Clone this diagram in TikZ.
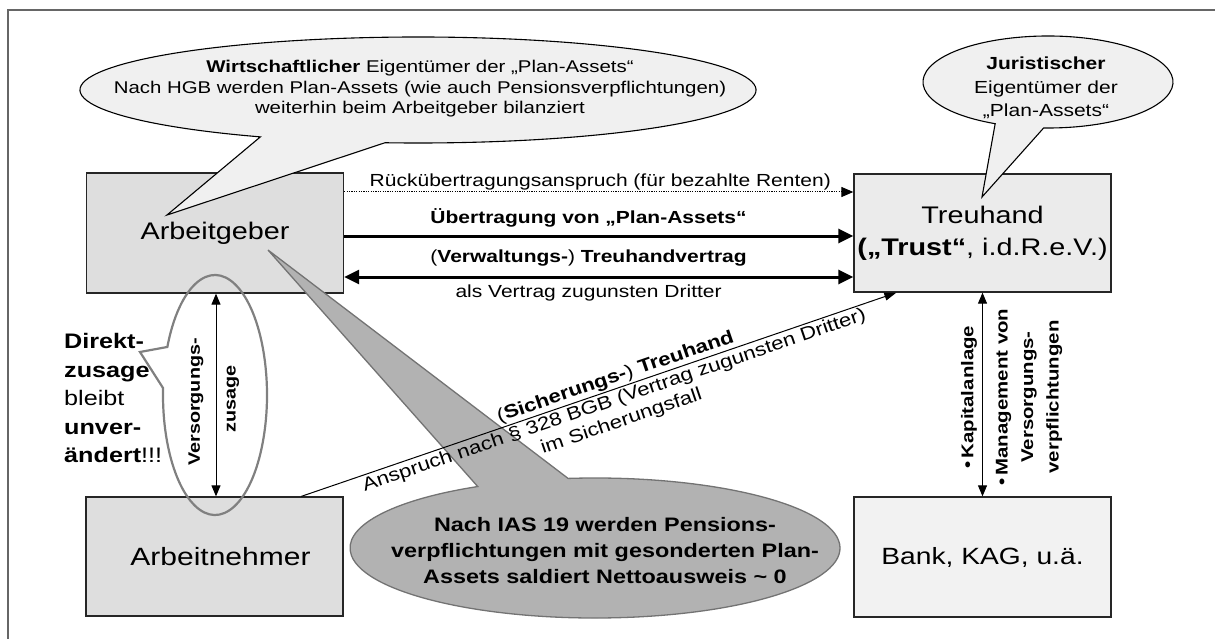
\documentclass[tikz,border=0pt]{standalone}
\usepackage{fontspec}
\setmainfont{Liberation Sans}[FakeStretch=1.2]
\usetikzlibrary{arrows.meta,calc}
\definecolor{boxA}{gray}{0.87}
\definecolor{boxT}{gray}{0.92}
\definecolor{boxB}{gray}{0.95}
\definecolor{callL}{gray}{0.94}
\definecolor{callG}{gray}{0.70}
\begin{document}
\begin{tikzpicture}[x=1pt,y=-1pt,
  box/.style={draw=black!85, line width=1.3pt, minimum width=257pt, minimum height=120pt, inner sep=0pt, align=center},
  lab/.style={font=\fontsize{17.5}{21}\selectfont, inner sep=1pt},
  diaglab/.style={font=\fontsize{18.5}{22}\selectfont, inner sep=1pt},
  callout/.style={draw=black, line width=1.1pt, fill=callL},
  thinarrow/.style={line width=1pt, {Triangle[length=11pt,width=9pt]}-{Triangle[length=11pt,width=9pt]}},
  boldarrow/.style={line width=3pt, -{Triangle[length=15pt,width=14pt]}},
]
\useasboundingbox (0,0) rectangle (1215,639);
% frame
\draw[black!60, line width=1.2pt] (8,639) -- (8,10) -- (1215,10);

% boxes
\node[box, fill=boxA, font=\fontsize{24}{29}\selectfont] (ag) at (215,233) {Arbeitgeber};
\node[box, fill=boxT, minimum height=118pt, font=\fontsize{24}{32}\selectfont] (tr) at (982.5,233) {Treuhand\\\textbf{(„Trust“}, i.d.R.e.V.)};
\node[box, fill=boxB, font=\fontsize{23.5}{28}\selectfont] (bk) at (982.5,557) {Bank, KAG, u.ä.};
\node[box, fill=boxA, minimum height=119pt, font=\fontsize{25}{30}\selectfont] (an) at (214.5,556.5) {\hspace*{12pt}Arbeitnehmer};

% top-left callout
\path[callout] (418,90) ++(117.8:338 and 53) arc[start angle=117.8, end angle=455.6, x radius=338, y radius=53] -- (167,215) -- cycle;
\node[align=center, font=\fontsize{17}{20.5}\selectfont] (tltext) at (420,89)
  {\textbf{Wirtschaftlicher} Eigentümer der „Plan-Assets“\\Nach HGB werden Plan-Assets (wie auch Pensionsverpflichtungen)\\weiterhin beim Arbeitgeber bilanziert};

% top-right callout
\path[callout] (1048,82) ++(115:125 and 46) arc[start angle=115, end angle=452, x radius=125, y radius=46] -- (982,197) -- cycle;
\node[align=center, font=\fontsize{17.5}{23.5}\selectfont] (trtext) at (1046,88)
  {\textbf{Juristischer}\\Eigentümer der\\„Plan-Assets“};

% bottom grey callout
\path[draw=black!55, line width=1.3pt, fill=callG] (595,548) ++(263.7:245 and 70) arc[start angle=263.7, end angle=601.4, x radius=245, y radius=70] -- (268,250) -- cycle;
\node[align=center, font=\bfseries\fontsize{19.5}{26}\selectfont] (gtext) at (605,551)
  {Nach IAS 19 werden Pensions-\\verpflichtungen mit gesonderten Plan-\\Assets saldiert Nettoausweis \textasciitilde{} 0};

% diagonal arrow
\draw[line width=1pt, -{Triangle[length=12pt,width=8pt]}] ([xshift=216pt]an.north west) -- ([xshift=43pt]tr.south west)
  node[pos=0.534, sloped, above=0.5pt, diaglab] (sich) {(\textbf{Sicherungs-}) \textbf{Treuhand}}
  node[pos=0.52, sloped, below=1pt, diaglab, align=center] (anspr) {Anspruch nach § 328 BGB (Vertrag zugunsten Dritter)\\im Sicherungsfall};

% horizontal arrows
\coordinate (y1) at (0,192);
\coordinate (y2) at (0,236);
\coordinate (y3) at (0,277);
\draw[line width=1pt, dash pattern=on 1.2pt off 1.2pt, -{Triangle[length=12pt,width=10pt]}] (ag.east |- y1) -- (tr.west |- y1)
  node[pos=0.503, above=0pt, lab] (rueck) {Rückübertragungsanspruch (für bezahlte Renten)};
\draw[boldarrow] (ag.east |- y2) -- (tr.west |- y2)
  node[pos=0.48, above=6pt, lab, font=\bfseries\fontsize{17.5}{21}\selectfont] (uebtr) {Übertragung von „Plan-Assets“};
\draw[line width=3pt, {Triangle[length=15pt,width=14pt]}-{Triangle[length=15pt,width=14pt]}] (ag.east |- y3) -- (tr.west |- y3)
  node[pos=0.48, above=8pt, lab] (verw) {(\textbf{Verwaltungs-}) \textbf{Treuhandvertrag}}
  node[pos=0.48, below=5pt, lab] (alsv) {als Vertrag zugunsten Dritter};

% vertical arrows
\coordinate (vx) at (216,0);
\draw[thinarrow] (ag.south -| vx) -- (an.north -| vx);
\node[rotate=90, font=\bfseries\fontsize{16.5}{20}\selectfont] (vers) at (196,402) {Versorgungs-};
\node[rotate=90, font=\bfseries\fontsize{16.5}{20}\selectfont] (zus) at (233,399) {zusage};

\draw[thinarrow] (tr.south) -- (bk.north);
\node[rotate=90, font=\bfseries\fontsize{17}{20}\selectfont] (kap) at (969,397) {•\,Kapitalanlage};
\node[rotate=90, align=center, font=\bfseries\fontsize{17}{25.5}\selectfont] (mgmt) at (1029,397)
  {•\,Management von\\Versorgungs-\\verpflichtungen};

% Versorgungszusage ellipse with tail
\path[draw=black!50, line width=2.2pt] (215,395) ++(203.6:52 and 120) arc[start angle=203.6, end angle=543.3, x radius=52, y radius=120] -- (140,352) -- cycle;

% left text
\node[anchor=west, align=left, inner sep=0pt, font=\fontsize{21}{28.5}\selectfont] (direkt) at (64,398)
  {\textbf{Direkt-}\\\textbf{zusage}\\bleibt\\\textbf{unver-}\\\textbf{ändert}!!!};
\end{tikzpicture}
\end{document}
